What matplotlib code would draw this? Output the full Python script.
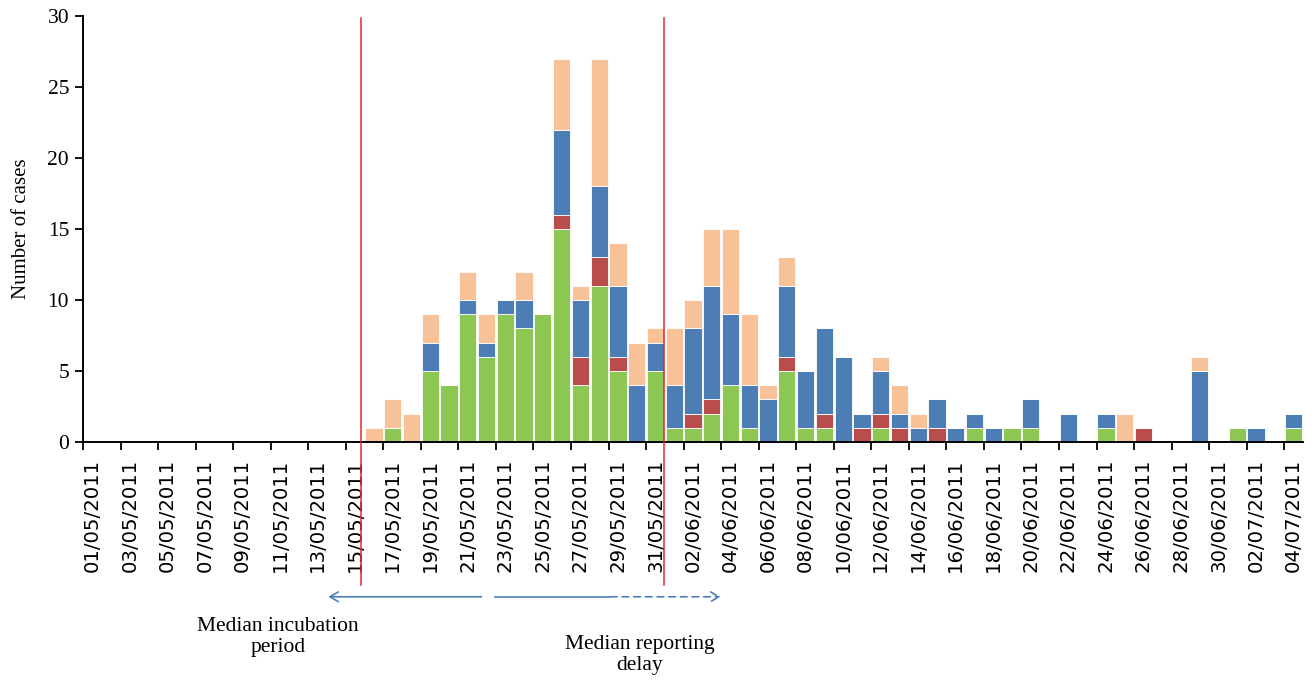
import matplotlib
matplotlib.use("Agg")
import matplotlib.pyplot as plt
import numpy as np
import pandas as pd

# ---- data -------------------------------------------------------------
dates = pd.date_range("2011-05-01", "2011-07-04", freq="D")
date_labels = [d.strftime("%d/%m/%Y") for d in dates]

green = [0]*15 + [0, 1, 0, 5, 4, 9, 6, 9, 8, 9, 15, 4, 11, 5, 0, 5,
                  1, 1, 2, 4, 1, 0, 5, 1, 1, 0, 0, 1, 0, 0, 0, 0, 1, 0, 1, 1,
                  0, 0, 0, 1, 0, 0, 0, 0, 0, 0, 1, 0, 0, 1]
red = [0]*15 + [0, 0, 0, 0, 0, 0, 0, 0, 0, 0, 1, 2, 2, 1, 0, 0,
                0, 1, 1, 0, 0, 0, 1, 0, 1, 0, 1, 1, 1, 0, 1, 0, 0, 0, 0, 0,
                0, 0, 0, 0, 0, 1, 0, 0, 0, 0, 0, 0, 0, 0]
blue = [0]*15 + [0, 0, 0, 2, 0, 1, 1, 1, 2, 0, 6, 4, 5, 5, 4, 2,
                 3, 6, 8, 5, 3, 3, 5, 4, 6, 6, 1, 3, 1, 1, 2, 1, 1, 1, 0, 2,
                 0, 2, 0, 1, 0, 0, 0, 0, 5, 0, 0, 1, 0, 1]
peach = [0]*15 + [1, 2, 2, 2, 0, 2, 2, 0, 2, 0, 5, 1, 9, 3, 3, 1,
                  4, 2, 4, 6, 5, 1, 2, 0, 0, 0, 0, 1, 2, 1, 0, 0, 0, 0, 0, 0,
                  0, 0, 0, 0, 2, 0, 0, 0, 1, 0, 0, 0, 0, 0]

series = [green, red, blue, peach]
colors = ["#8DC753", "#B94D4B", "#4D7DB5", "#F8C298"]

# ---- figure -----------------------------------------------------------
fig = plt.figure(figsize=(13.15, 6.85), dpi=100)
ax = fig.add_axes([83/1315, 1-442/685, (1303-83)/1315, (442-16)/685])

x = np.arange(len(dates))
bottom = np.zeros(len(dates))
for vals, c in zip(series, colors):
    v = np.array(vals, dtype=float)
    ax.bar(x, v, width=0.92, bottom=bottom, color=c, edgecolor="white",
           linewidth=0.6, zorder=2)
    bottom += v

ax.set_xlim(-0.5, len(dates) - 0.5)
ax.set_ylim(0, 30)
ax.set_yticks(range(0, 31, 5))
ax.set_yticklabels([str(t) for t in range(0, 31, 5)],
                   family="Liberation Serif", fontsize=15.5)

ax.set_xticks(x[::2])
ax.set_xticklabels(date_labels[::2], rotation=90, family="DejaVu Sans",
                   fontsize=14.2)
ax.set_xticks(np.arange(-0.5, len(dates) - 0.5, 2), minor=True)
ax.tick_params(axis="x", which="major", length=0, pad=12)
ax.tick_params(axis="x", which="minor", length=6, width=1.3, direction="out")
ax.tick_params(axis="y", length=6, width=1.3, direction="out", pad=4)

for s in ["top", "right"]:
    ax.spines[s].set_visible(False)
for s in ["left", "bottom"]:
    ax.spines[s].set_linewidth(1.4)

ax.set_ylabel("Number of cases", family="Liberation Serif", fontsize=15,
              labelpad=12)

# ---- annotations ------------------------------------------------------
line_x = [14.33, 30.43]
for lx in line_x:
    ax.plot([lx, lx], [-10.1, 29.85], color="#E2282C", lw=1.1,
            clip_on=False, zorder=3)

arrow_y = -10.9
acol = "#4F7FBA"
ax.annotate("", xy=(12.57, arrow_y), xytext=(20.73, arrow_y),
            arrowprops=dict(arrowstyle="->,head_length=0.6,head_width=0.35",
                            color=acol, lw=1.2, shrinkA=0, shrinkB=0),
            annotation_clip=False)
ax.plot([21.47, 27.6], [arrow_y, arrow_y], color=acol, lw=1.2,
        clip_on=False)
ax.annotate("", xy=(33.47, arrow_y), xytext=(27.6, arrow_y),
            arrowprops=dict(arrowstyle="->,head_length=0.6,head_width=0.35",
                            color=acol, lw=1.2, ls=(0, (4, 3)),
                            shrinkA=0, shrinkB=0),
            annotation_clip=False)

fig.text(278/1315, 1-637/685, "Median incubation\nperiod", ha="center",
         va="center", family="Liberation Serif", fontsize=15.5,
         linespacing=1.1)
fig.text(640/1315, 1-655/685, "Median reporting\ndelay", ha="center",
         va="center", family="Liberation Serif", fontsize=15.5,
         linespacing=1.1)

fig.savefig("out.png", dpi=100)
